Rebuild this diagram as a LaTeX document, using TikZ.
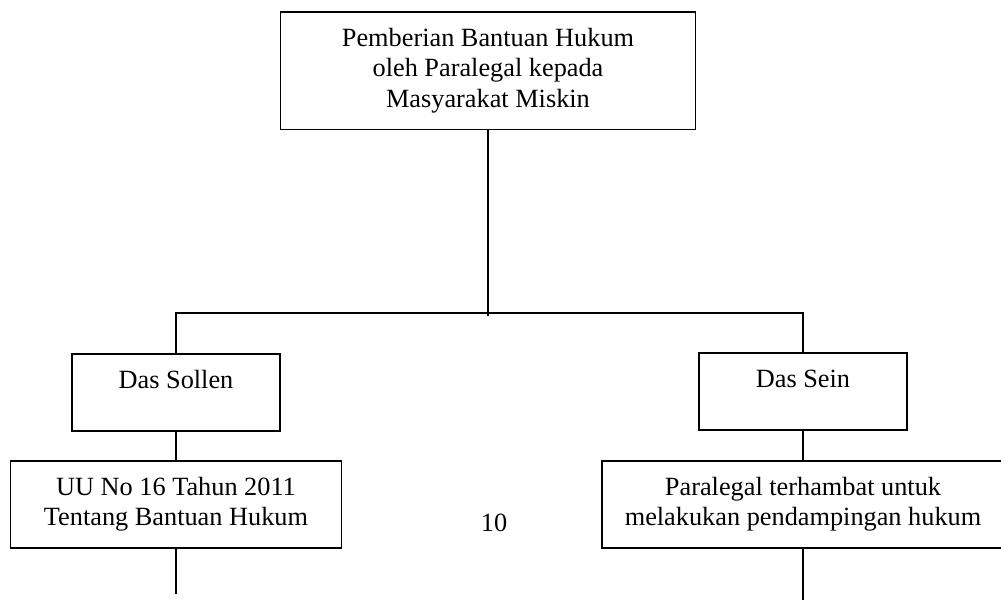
\documentclass[tikz,border=0pt]{standalone}
\usepackage{fontspec}
\setmainfont{Liberation Serif}
\usepackage{tikz}

\begin{document}
\begin{tikzpicture}[x=1pt,y=-1pt,
  every node/.style={font=\fontsize{26.3}{30.2}\selectfont},
  box/.style={draw,line width=1.8pt,inner ysep=16.6pt,anchor=north},
  multi/.style={box,align=center},
  tall/.style={box,text height=18pt,text depth=26pt},
  every path/.style={line width=1.8pt}]
\useasboundingbox (0,0) rectangle (1001,600);
\node[multi,minimum width=415pt] (root) at (488,11) {Pemberian Bantuan Hukum\\oleh Paralegal kepada\\Masyarakat Miskin};
\node[tall,minimum width=208pt] (sollen) at (176,353) {Das Sollen};
\node[tall,minimum width=208pt] (sein) at (803,352) {Das Sein};
\node[multi,minimum width=331pt] (uu) at (176,460) {UU No 16 Tahun 2011\\Tentang Bantuan Hukum};
\node[multi,minimum width=402pt] (para) at (803,460) {Paralegal terhambat untuk\\melakukan pendampingan hukum};
\node (page) at (494,523) {10};
\coordinate (bus) at (488,313);
\coordinate (uuEnd) at (176,594);
\coordinate (paraEnd) at (803,600);
\draw (root.south) -- ([yshift=-3pt]bus);
\draw (sollen.north) -- (sollen.north |- bus) -- (sein.north |- bus) -- (sein.north);
\draw (sollen.south) -- (uu.north);
\draw (sein.south) -- (para.north);
\draw (uu.south) -- (uuEnd);
\draw (para.south) -- (paraEnd);
\end{tikzpicture}
\end{document}
